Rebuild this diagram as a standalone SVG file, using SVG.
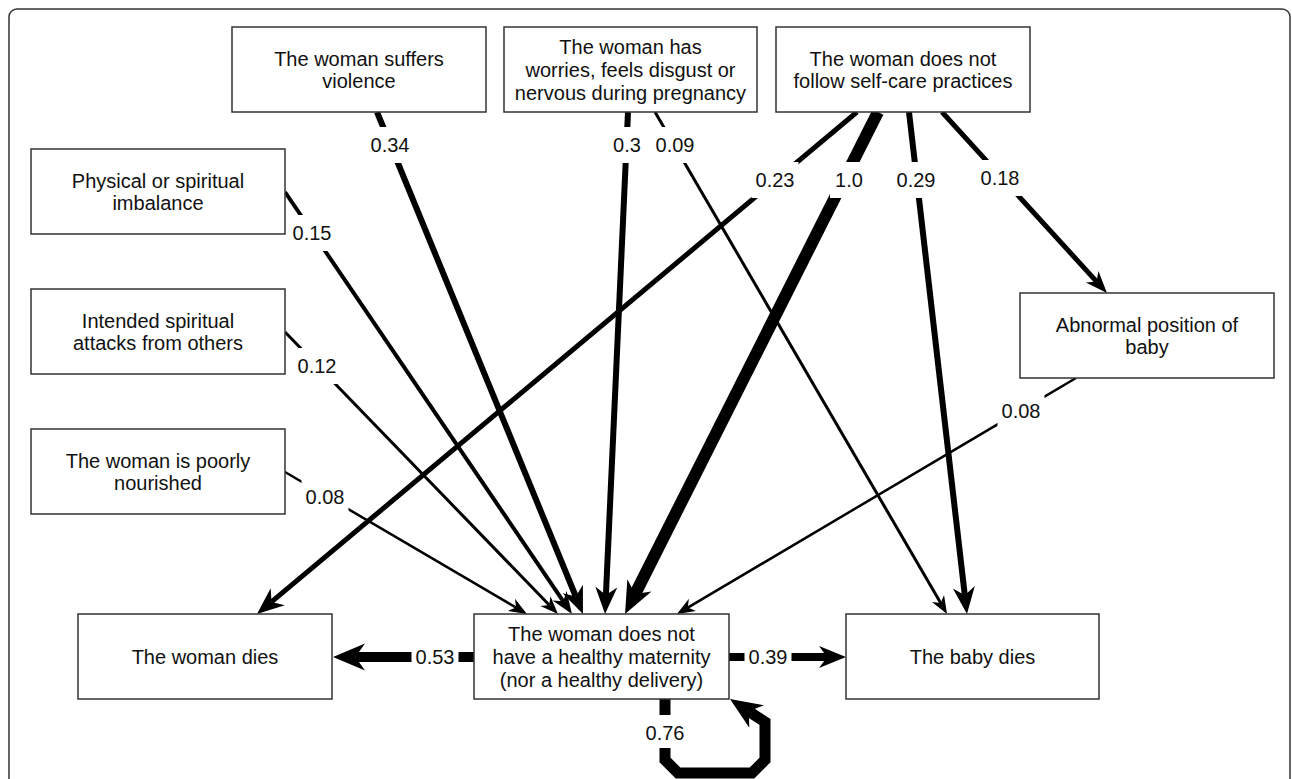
<svg xmlns="http://www.w3.org/2000/svg" width="1292" height="779" viewBox="0 0 1292 779">
<style>
.frame{fill:none;stroke:#333;stroke-width:1.5}
.box rect{fill:#fff;stroke:#333;stroke-width:1.5}
.box text{font-family:"Liberation Sans",Arial,sans-serif;font-size:20px;fill:#111;text-anchor:middle}
.e{fill:none;stroke:#000;stroke-linecap:butt;stroke-linejoin:miter}
.lbl rect{fill:#fff;stroke:none}
.lbl text{font-family:"Liberation Sans",Arial,sans-serif;font-size:20px;fill:#111;text-anchor:middle}
</style>
<defs>
<marker id="a1" markerUnits="userSpaceOnUse" markerWidth="40" markerHeight="40" refX="5.4" refY="0" orient="auto" overflow="visible"><path d="M18,0 L0,-7 L5.4,0 L0,7 Z" fill="#000"/></marker>
<marker id="a2" markerUnits="userSpaceOnUse" markerWidth="40" markerHeight="40" refX="6.6" refY="0" orient="auto" overflow="visible"><path d="M22,0 L0,-8.5 L6.6,0 L0,8.5 Z" fill="#000"/></marker>
<marker id="a3" markerUnits="userSpaceOnUse" markerWidth="40" markerHeight="40" refX="8.1" refY="0" orient="auto" overflow="visible"><path d="M27,0 L0,-11 L8.1,0 L0,11 Z" fill="#000"/></marker>
<marker id="a4" markerUnits="userSpaceOnUse" markerWidth="40" markerHeight="40" refX="9.6" refY="0" orient="auto" overflow="visible"><path d="M32,0 L0,-13.5 L9.6,0 L0,13.5 Z" fill="#000"/></marker>
</defs>
<rect width="1292" height="779" fill="#fff"/>
<rect class="frame" x="9" y="9" width="1281" height="800" rx="8"/>

<g id="connectors">
<line class="e" x1="285" y1="192" x2="563.3" y2="601.3" stroke-width="4" marker-end="url(#a2)"/>
<line class="e" x1="285" y1="332" x2="549.2" y2="605" stroke-width="3" marker-end="url(#a1)"/>
<line class="e" x1="285" y1="472" x2="516.1" y2="607.6" stroke-width="2.5" marker-end="url(#a1)"/>
<line class="e" x1="377" y1="112" x2="575.8" y2="596.5" stroke-width="6" marker-end="url(#a3)"/>
<line class="e" x1="628" y1="112" x2="605.9" y2="595.1" stroke-width="6" marker-end="url(#a3)"/>
<line class="e" x1="655" y1="112" x2="940.7" y2="603.1" stroke-width="3" marker-end="url(#a1)"/>
<line class="e" x1="857" y1="112" x2="271.5" y2="601.9" stroke-width="5" marker-end="url(#a3)"/>
<line class="e" x1="878" y1="112" x2="635.1" y2="594" stroke-width="12" marker-end="url(#a4)"/>
<line class="e" x1="909" y1="112" x2="964.8" y2="595.2" stroke-width="6" marker-end="url(#a3)"/>
<line class="e" x1="942" y1="112" x2="1096.6" y2="281.6" stroke-width="5" marker-end="url(#a2)"/>
<line class="e" x1="1076" y1="378" x2="687.8" y2="607.6" stroke-width="2.5" marker-end="url(#a1)"/>
<line class="e" x1="474" y1="657" x2="355.4" y2="657" stroke-width="10" marker-end="url(#a4)"/>
<line class="e" x1="729" y1="657" x2="827.1" y2="657" stroke-width="8" marker-end="url(#a3)"/>
<path class="e" d="M665,699 V760 L678,773 H752 L765,760 V722 L748.7,711.3" stroke-width="11" marker-end="url(#a4)"/>
</g>

<g id="edge-labels">
<g class="lbl"><rect x="366.5" y="127" width="47" height="36"/><text x="390" y="152">0.34</text></g>
<g class="lbl"><rect x="608" y="127" width="38" height="36"/><text x="627" y="152">0.3</text></g>
<g class="lbl"><rect x="651.5" y="127" width="47" height="36"/><text x="675" y="152">0.09</text></g>
<g class="lbl"><rect x="751.5" y="162" width="47" height="36"/><text x="775" y="187">0.23</text></g>
<g class="lbl"><rect x="830" y="162" width="38" height="36"/><text x="849" y="187">1.0</text></g>
<g class="lbl"><rect x="892.5" y="162" width="47" height="36"/><text x="916" y="187">0.29</text></g>
<g class="lbl"><rect x="976.5" y="160" width="47" height="36"/><text x="1000" y="185">0.18</text></g>
<g class="lbl"><rect x="288.5" y="215" width="47" height="36"/><text x="312" y="240">0.15</text></g>
<g class="lbl"><rect x="293.5" y="348" width="47" height="36"/><text x="317" y="373">0.12</text></g>
<g class="lbl"><rect x="301.5" y="479" width="47" height="36"/><text x="325" y="504">0.08</text></g>
<g class="lbl"><rect x="997.5" y="393" width="47" height="36"/><text x="1021" y="418">0.08</text></g>
<g class="lbl"><rect x="411.5" y="639" width="47" height="36"/><text x="435" y="664">0.53</text></g>
<g class="lbl"><rect x="744.5" y="639" width="47" height="36"/><text x="768" y="664">0.39</text></g>
<g class="lbl"><rect x="641.5" y="715" width="47" height="33"/><text x="665" y="740">0.76</text></g>
</g>

<g id="n-violence" class="box"><rect x="232" y="27" width="254" height="85"/><text x="359" y="65.5">The woman suffers</text><text x="359" y="87.5">violence</text></g>
<g id="n-worries" class="box"><rect x="504" y="27" width="253" height="85"/><text x="630.5" y="53.5">The woman has</text><text x="630.5" y="76.5">worries, feels disgust or</text><text x="630.5" y="99.5">nervous during pregnancy</text></g>
<g id="n-selfcare" class="box"><rect x="776" y="27" width="254" height="85"/><text x="903" y="65.5">The woman does not</text><text x="903" y="87.5">follow self-care practices</text></g>
<g id="n-physical" class="box"><rect x="31" y="149" width="254" height="85"/><text x="158" y="187.5">Physical or spiritual</text><text x="158" y="209.5">imbalance</text></g>
<g id="n-intended" class="box"><rect x="31" y="289" width="254" height="85"/><text x="158" y="327.5">Intended spiritual</text><text x="158" y="349.5">attacks from others</text></g>
<g id="n-poorly" class="box"><rect x="31" y="429" width="254" height="85"/><text x="158" y="467.5">The woman is poorly</text><text x="158" y="489.5">nourished</text></g>
<g id="n-abnormal" class="box"><rect x="1020" y="293" width="254" height="85"/><text x="1147" y="331.5">Abnormal position of</text><text x="1147" y="353.5">baby</text></g>
<g id="n-womandies" class="box"><rect x="78" y="614" width="254" height="85"/><text x="205" y="663.5">The woman dies</text></g>
<g id="n-maternity" class="box"><rect x="474" y="614" width="255" height="85"/><text x="601.5" y="640.5">The woman does not</text><text x="601.5" y="663.5">have a healthy maternity</text><text x="601.5" y="686.5">(nor a healthy delivery)</text></g>
<g id="n-babydies" class="box"><rect x="846" y="614" width="253" height="85"/><text x="972.5" y="663.5">The baby dies</text></g>
</svg>
